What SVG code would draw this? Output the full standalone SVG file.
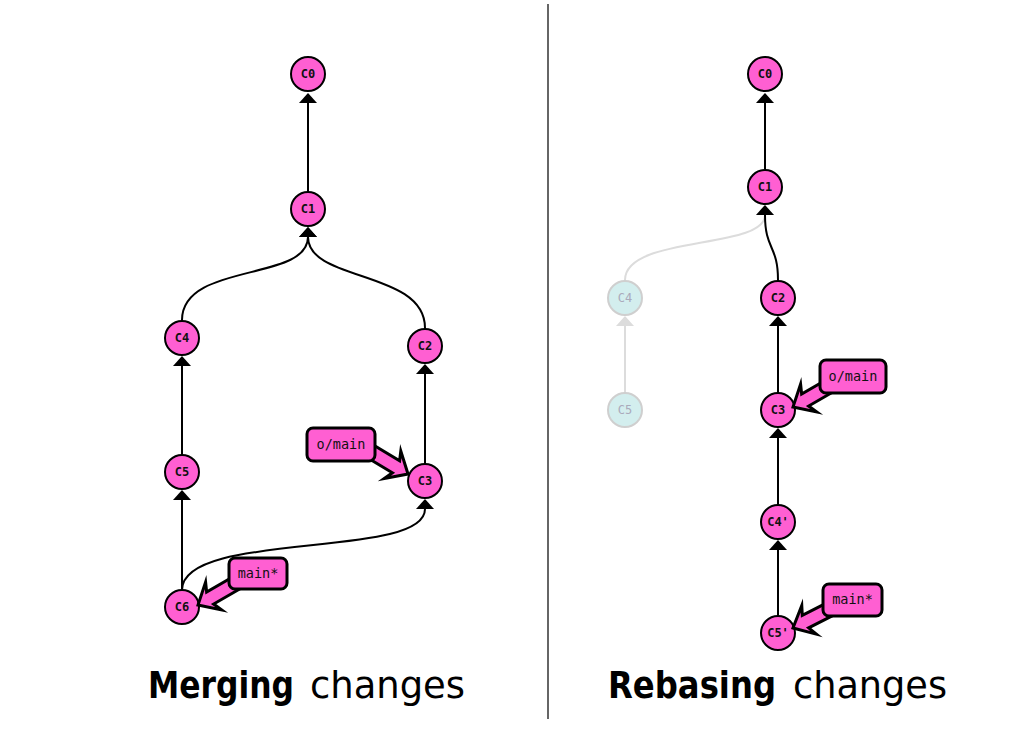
<svg xmlns="http://www.w3.org/2000/svg" width="1013" height="745" viewBox="0 0 1013 745">
<style>
.edge{fill:none;stroke:#000;stroke-width:2;marker-end:url(#ah)}
.ghost{fill:none;stroke:#dcdcdc;stroke-width:2;marker-end:url(#ahg)}
.node circle{fill:#ff5fd2;stroke:#000;stroke-width:2}
.node text{font-family:"DejaVu Sans Mono","Liberation Mono",monospace;font-size:12px;font-weight:bold;fill:#111;text-anchor:middle}
.faded circle{fill:#d3eeee;stroke:#cfcfcf;stroke-width:2}
.faded text{font-family:"DejaVu Sans Mono","Liberation Mono",monospace;font-size:12px;fill:#aab;text-anchor:middle}
.lab rect{fill:#ff5fd2;stroke:#000;stroke-width:3}
.lab text{font-family:"DejaVu Sans Mono","Liberation Mono",monospace;font-size:13.5px;fill:#111;text-anchor:middle}
.ptr{fill:#ff5fd2;stroke:#000;stroke-width:3;stroke-linejoin:miter;stroke-miterlimit:10}
.tb{font-family:"DejaVu Sans Condensed","DejaVu Sans",sans-serif;font-stretch:condensed;font-size:38px;font-weight:bold;fill:#000}
.tr{font-family:"DejaVu Sans Condensed","DejaVu Sans",sans-serif;font-stretch:condensed;font-size:38px;fill:#000}
</style>
<defs>
<marker id="ah" viewBox="0 0 10 18" refX="0" refY="9" markerWidth="10" markerHeight="18" markerUnits="userSpaceOnUse" orient="auto"><path d="M0,0 L10,9 L0,18 z" fill="#000"/></marker>
<marker id="ahg" viewBox="0 0 10 18" refX="0" refY="9" markerWidth="10" markerHeight="18" markerUnits="userSpaceOnUse" orient="auto"><path d="M0,0 L10,9 L0,18 z" fill="#dcdcdc"/></marker>
</defs>
<rect width="1013" height="745" fill="#fff"/>
<line x1="548" y1="4" x2="548" y2="719" stroke="#333" stroke-width="1.5"/>

<g id="connectors">
<path class="ghost" d="M625 280 C625 235 765 250 765 215"/>
<path class="ghost" d="M625 392 V326"/>
<path class="edge" d="M308 191 V103"/>
<path class="edge" d="M182 320 C182 262 308 282 308 237"/>
<path class="edge" d="M425 328 C425 270 308 282 308 237"/>
<path class="edge" d="M182 455 V366"/>
<path class="edge" d="M425 463 V374"/>
<path class="edge" d="M182 590 V500"/>
<path class="edge" d="M182 590 C182 530 425 560 425 509"/>
<path class="edge" d="M765 169 V103"/>
<path class="edge" d="M778 280 C778 245 765 250 765 215"/>
<path class="edge" d="M778 392 V326"/>
<path class="edge" d="M778 504 V438"/>
<path class="edge" d="M778 615 V550"/>
</g>

<g id="m-C0" class="node"><circle cx="308" cy="74" r="17"/><text x="308" y="78">C0</text></g>
<g id="m-C1" class="node"><circle cx="308" cy="209" r="17"/><text x="308" y="213">C1</text></g>
<g id="m-C4" class="node"><circle cx="182" cy="338" r="17"/><text x="182" y="342">C4</text></g>
<g id="m-C2" class="node"><circle cx="425" cy="346" r="17"/><text x="425" y="350">C2</text></g>
<g id="m-C5" class="node"><circle cx="182" cy="472" r="17"/><text x="182" y="476">C5</text></g>
<g id="m-C3" class="node"><circle cx="425" cy="481" r="17"/><text x="425" y="485">C3</text></g>
<g id="m-C6" class="node"><circle cx="182" cy="607" r="17"/><text x="182" y="611">C6</text></g>

<g id="r-C0" class="node"><circle cx="765" cy="74" r="17"/><text x="765" y="78">C0</text></g>
<g id="r-C1" class="node"><circle cx="765" cy="187" r="17"/><text x="765" y="191">C1</text></g>
<g id="r-C4" class="faded"><circle cx="625" cy="298" r="17"/><text x="625" y="302">C4</text></g>
<g id="r-C5" class="faded"><circle cx="625" cy="410" r="17"/><text x="625" y="414">C5</text></g>
<g id="r-C2" class="node"><circle cx="778" cy="298" r="17"/><text x="778" y="302">C2</text></g>
<g id="r-C3" class="node"><circle cx="778" cy="410" r="17"/><text x="778" y="414">C3</text></g>
<g id="r-C4p" class="node"><circle cx="778" cy="522" r="17"/><text x="778" y="526">C4'</text></g>
<g id="r-C5p" class="node"><circle cx="778" cy="633" r="17"/><text x="778" y="637">C5'</text></g>

<g id="m-omain" class="lab">
<path class="ptr" transform="translate(408 474) rotate(31)" d="M0,0 L-18,-16 L-14,-7 L-62,-7 L-62,7 L-14,7 L-18,16 Z"/>
<rect x="307" y="428" width="68" height="33" rx="6"/><text x="341" y="449">o/main</text></g>
<g id="m-main" class="lab">
<path class="ptr" transform="translate(198 605) rotate(150)" d="M0,0 L-18,-16 L-14,-7 L-62,-7 L-62,7 L-14,7 L-18,16 Z"/>
<rect x="229" y="558" width="58" height="31" rx="6"/><text x="258" y="578">main*</text></g>
<g id="r-omain" class="lab">
<path class="ptr" transform="translate(793 407) rotate(150)" d="M0,0 L-18,-16 L-14,-7 L-62,-7 L-62,7 L-14,7 L-18,16 Z"/>
<rect x="820" y="360" width="66" height="33" rx="6"/><text x="853" y="381">o/main</text></g>
<g id="r-main" class="lab">
<path class="ptr" transform="translate(793 628) rotate(153)" d="M0,0 L-18,-16 L-14,-7 L-62,-7 L-62,7 L-14,7 L-18,16 Z"/>
<rect x="823" y="584" width="59" height="32" rx="6"/><text x="852.5" y="604">main*</text></g>

<g id="titles">
<text class="tb" x="148" y="698" textLength="146" lengthAdjust="spacingAndGlyphs">Merging</text>
<text class="tr" x="310" y="698" textLength="155" lengthAdjust="spacingAndGlyphs">changes</text>
<text class="tb" x="608" y="698" textLength="168" lengthAdjust="spacingAndGlyphs">Rebasing</text>
<text class="tr" x="793" y="698" textLength="154" lengthAdjust="spacingAndGlyphs">changes</text>
</g>
</svg>
